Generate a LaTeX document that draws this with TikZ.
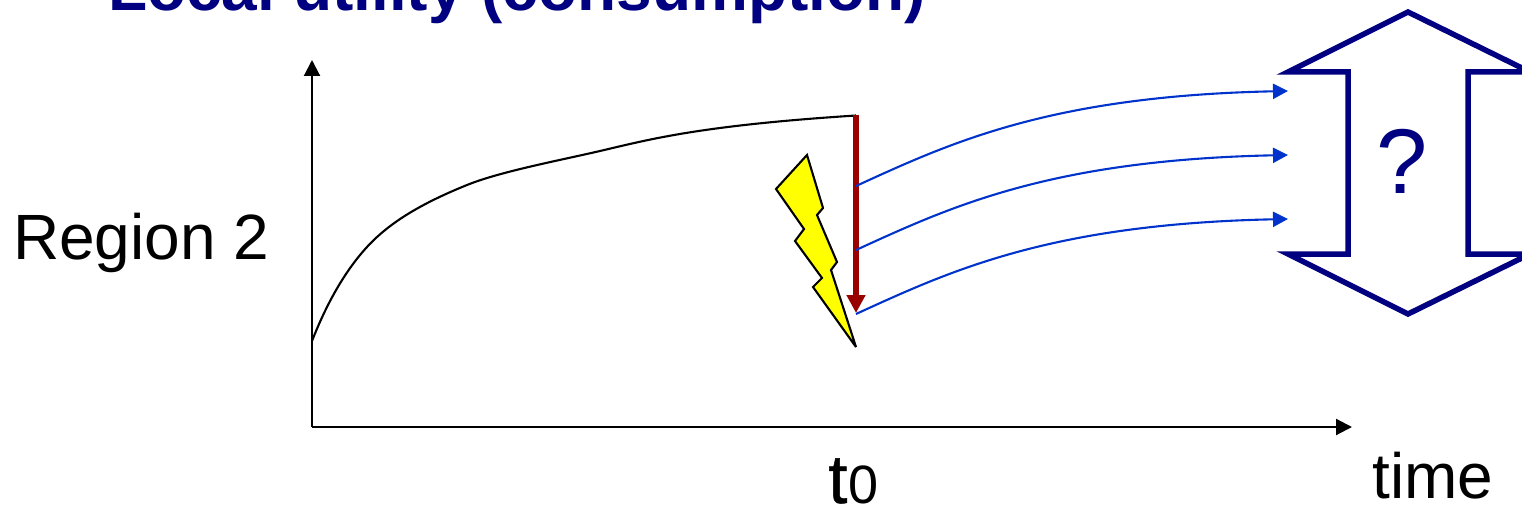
\documentclass[tikz,border=0pt]{standalone}
\usepackage{fontspec}
\setmainfont{Liberation Sans}
\newfontfamily\tfat[FakeBold=0.7]{Liberation Sans}
\usetikzlibrary{arrows.meta}
\definecolor{navyc}{HTML}{000080}
\definecolor{bluec}{HTML}{0033CC}
\definecolor{redc}{HTML}{990000}
\definecolor{yellowc}{HTML}{FFFF00}
\tikzset{
  lbl/.style={inner sep=0pt,anchor=base west,font=\fontsize{64}{64}\selectfont},
  axisline/.style={line width=2.1pt,-{Triangle[length=16pt,width=16pt]}},
  bluearrow/.style={line width=2.1pt,bluec,-{Triangle[length=15pt,width=15pt]}},
  redarrow/.style={line width=5.5pt,redc,-{Triangle[length=18pt,width=18pt]}},
  bolt/.style={draw=black,fill=yellowc,line width=2.1pt,line join=miter,miter limit=3},
  dblarrow/.style={draw=navyc,line width=5.5pt,line join=miter,miter limit=10},
}
\begin{document}
\begin{tikzpicture}[x=1pt,y=-1pt]
\useasboundingbox (0,0) rectangle (1522,508);
\clip (0,0) rectangle (1522,508);
\node[lbl,text=navyc,font=\fontsize{64}{64}\bfseries\selectfont] (title) at (108,11) {Local utility (consumption)};
\node[lbl] (region) at (13,259) {Region 2};
\node[lbl] (time) at (1372,498) {time};
\node[lbl,font=\fontsize{69}{69}\selectfont] (tzero) at (828,503) {{\tfat t}\hspace{1pt}\fontsize{54}{54}\selectfont 0};
\coordinate (origin) at (312,427);
\coordinate (ytop) at (312,60);
\coordinate (xend) at (1352,427);
\draw[axisline] (origin) -- (ytop);
\draw[axisline] (origin) -- (xend);
\coordinate (c0) at (312,341);
\coordinate (c1) at (856,115.5);
\draw[line width=2.1pt,line join=round] (c0) .. controls (330,295) and (352,260) .. (377,237)
  .. controls (400,216) and (430,200) .. (467,185)
  .. controls (500,171.6) and (560,160.3) .. (600,151)
  .. controls (650,139.3) and (700,125.5) .. (c1);
\draw[bolt] (807,155) -- (823,208) -- (817,215) -- (837,262) -- (831,270) -- (856,347)
  -- (813,287) -- (822,278) -- (795,241) -- (804,229) -- (776,189) -- cycle;
\coordinate (rtop) at (856,115);
\coordinate (rend) at (856,313);
\draw[redarrow] (rtop) -- (rend);
\foreach \n/\d in {a/0,b/64,c/128}{
  \coordinate (s\n) at (856,186+\d);
  \coordinate (e\n) at (1288,91+\d);
  \draw[bluearrow] (s\n) .. controls (950,143+\d) and (1050,96+\d) .. (e\n);
}
\draw[dblarrow] (1408,12) -- (1530,72) -- (1468,72) -- (1468,254) -- (1530,254) -- (1408,314)
  -- (1288,254) -- (1348,254) -- (1348,72) -- (1288,72) -- cycle;
\node[lbl,text=navyc,anchor=base,font=\fontsize{92}{92}\selectfont] (q) at (1402,193) {?};
\end{tikzpicture}
\end{document}
